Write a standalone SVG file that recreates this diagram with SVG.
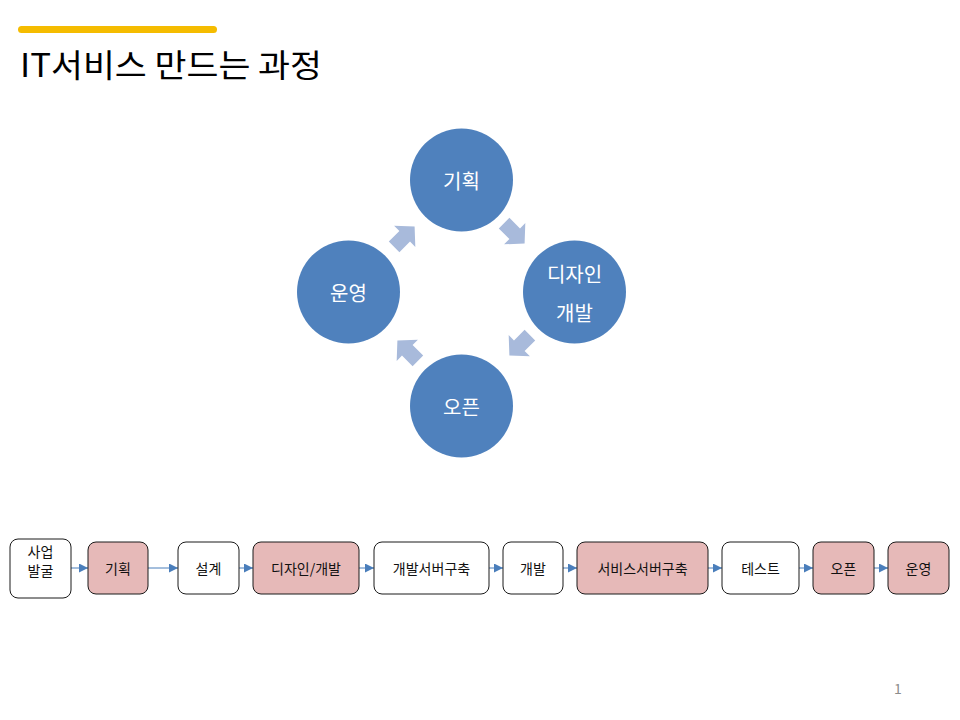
<svg xmlns="http://www.w3.org/2000/svg" width="960" height="720" viewBox="0 0 960 720">
<style>
text{font-family:"Noto Sans CJK KR","Malgun Gothic","Noto Sans",sans-serif}
.c{fill:#4f81bd}
.ct{fill:#fff;font-size:20px;text-anchor:middle;dominant-baseline:central}
.ba{fill:#a8badb}
.b{stroke:#1a1a1a;stroke-width:1;fill:#fff}
.p{fill:#e6b9b8}
.bt{fill:#111;font-size:14px;text-anchor:middle;dominant-baseline:central}
.l{stroke:#4a7ebb;stroke-width:1;fill:none;marker-end:url(#ah)}
</style>
<defs>
<marker id="ah" viewBox="0 0 10 10" refX="10" refY="5" markerWidth="9" markerHeight="9" markerUnits="userSpaceOnUse" orient="auto">
<path d="M0,0 L10,5 L0,10 Z" fill="#4a7ebb"/>
</marker>
<path id="blk" d="M-14,-7.5 L1,-7.5 L1,-15 L15,0 L1,15 L1,7.5 L-14,7.5 Z"/>
</defs>
<rect x="18" y="26" width="199" height="7" rx="3.5" fill="#f5bc00"/>
<text x="20" y="77" font-size="32" fill="#000" textLength="302" lengthAdjust="spacingAndGlyphs">IT서비스 만드는 과정</text>

<g id="cycle-arrows" class="ba">
<use href="#blk" transform="translate(404,237) rotate(-45)"/>
<use href="#blk" transform="translate(514,233) rotate(45)"/>
<use href="#blk" transform="translate(520,345) rotate(135)"/>
<use href="#blk" transform="translate(408,351) rotate(-135)"/>
</g>
<g id="c-plan"><circle class="c" cx="461.5" cy="180" r="51.5"/><text class="ct" x="461.5" y="180">기획</text></g>
<g id="c-design"><circle class="c" cx="574.5" cy="292" r="51.5"/><text class="ct" x="574.5" y="273">디자인</text><text class="ct" x="574.5" y="312">개발</text></g>
<g id="c-open"><circle class="c" cx="461.5" cy="406" r="51.5"/><text class="ct" x="461.5" y="406">오픈</text></g>
<g id="c-ops"><circle class="c" cx="348.5" cy="292" r="51.5"/><text class="ct" x="348.5" y="292">운영</text></g>

<g id="connectors">
<line class="l" x1="71" y1="568" x2="88" y2="568"/>
<line class="l" x1="148" y1="568" x2="178" y2="568"/>
<line class="l" x1="239" y1="568" x2="253" y2="568"/>
<line class="l" x1="359" y1="568" x2="374" y2="568"/>
<line class="l" x1="489" y1="568" x2="503" y2="568"/>
<line class="l" x1="563" y1="568" x2="577" y2="568"/>
<line class="l" x1="708" y1="568" x2="722" y2="568"/>
<line class="l" x1="799" y1="568" x2="813" y2="568"/>
<line class="l" x1="874" y1="568" x2="888" y2="568"/>
</g>

<g id="b1"><rect class="b" x="10" y="539" width="61" height="59" rx="8"/><text class="bt" x="40.5" y="551">사업</text><text class="bt" x="40.5" y="570">발굴</text></g>
<g id="b2"><rect class="b p" x="88" y="542" width="60" height="52" rx="8"/><text class="bt" x="118" y="568">기획</text></g>
<g id="b3"><rect class="b" x="178" y="542" width="61" height="52" rx="8"/><text class="bt" x="208.5" y="568">설계</text></g>
<g id="b4"><rect class="b p" x="253" y="542" width="106" height="52" rx="8"/><text class="bt" x="306" y="568">디자인/개발</text></g>
<g id="b5"><rect class="b" x="374" y="542" width="115" height="52" rx="8"/><text class="bt" x="431.5" y="568">개발서버구축</text></g>
<g id="b6"><rect class="b" x="503" y="542" width="60" height="52" rx="8"/><text class="bt" x="533" y="568">개발</text></g>
<g id="b7"><rect class="b p" x="577" y="542" width="131" height="52" rx="8"/><text class="bt" x="642.5" y="568">서비스서버구축</text></g>
<g id="b8"><rect class="b" x="722" y="542" width="77" height="52" rx="8"/><text class="bt" x="760.5" y="568">테스트</text></g>
<g id="b9"><rect class="b p" x="813" y="542" width="61" height="52" rx="8"/><text class="bt" x="843.5" y="568">오픈</text></g>
<g id="b10"><rect class="b p" x="888" y="542" width="61" height="52" rx="8"/><text class="bt" x="918.5" y="568">운영</text></g>

<text x="898" y="688" font-size="14" fill="#8c8c8c" text-anchor="middle" dominant-baseline="central">1</text>
</svg>
